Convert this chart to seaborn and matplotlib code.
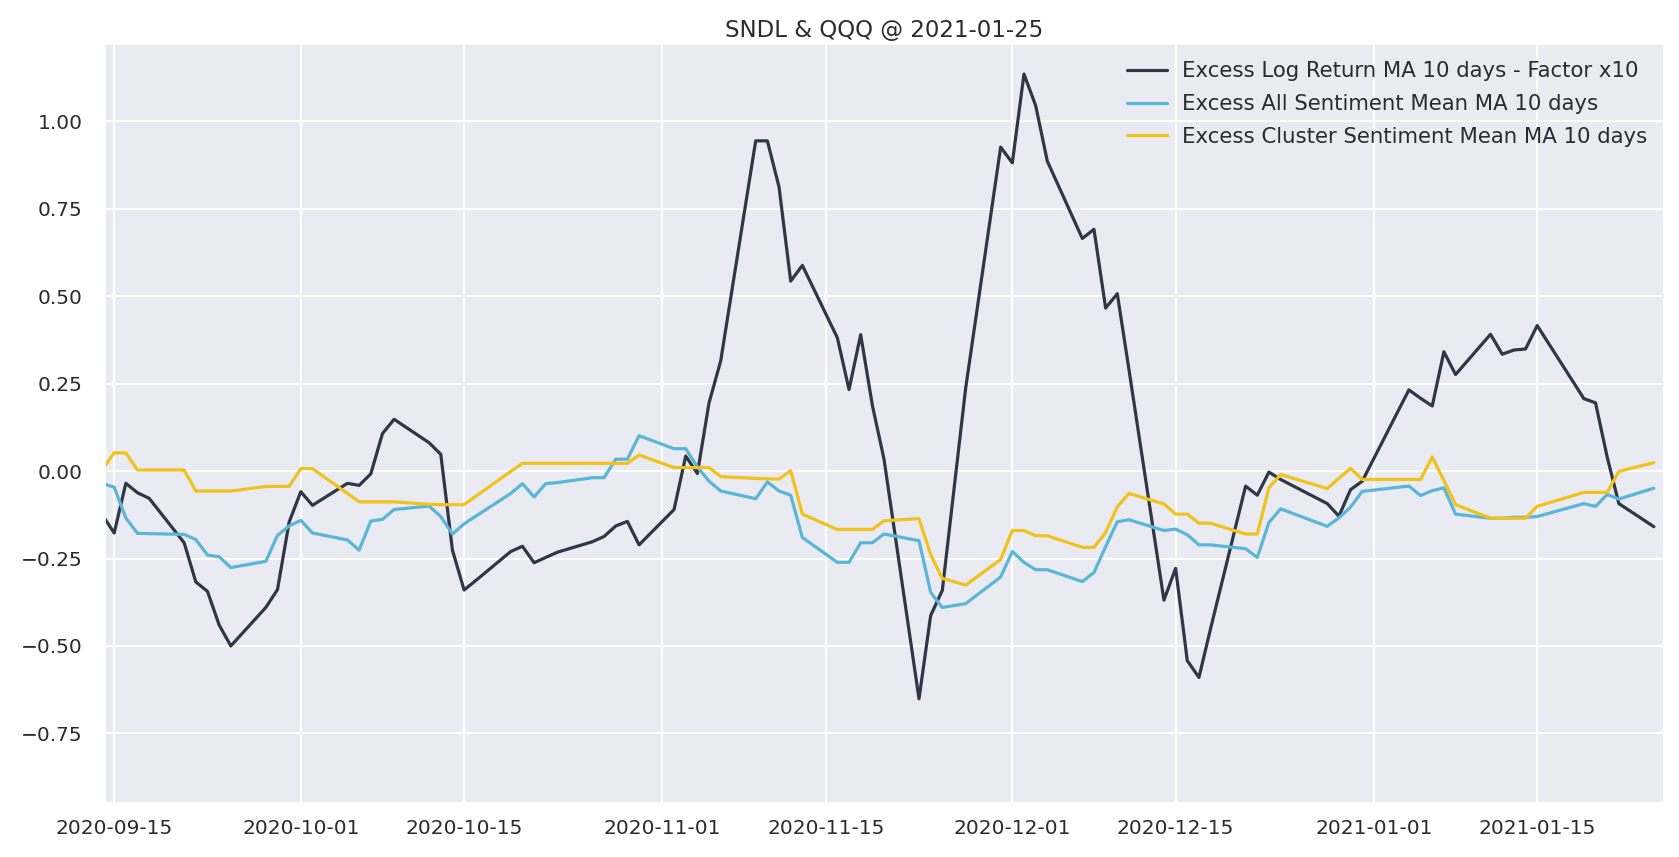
import pandas as pd
import matplotlib
matplotlib.use("Agg")
import matplotlib.pyplot as plt
import matplotlib.dates as mdates
import seaborn as sns

# Trading days shown in the chart
dates = [
    "2020-09-14", "2020-09-15", "2020-09-16", "2020-09-17", "2020-09-18",
    "2020-09-21", "2020-09-22", "2020-09-23", "2020-09-24", "2020-09-25",
    "2020-09-28", "2020-09-29", "2020-09-30", "2020-10-01", "2020-10-02",
    "2020-10-05", "2020-10-06", "2020-10-07", "2020-10-08", "2020-10-09",
    "2020-10-12", "2020-10-13", "2020-10-14", "2020-10-15", "2020-10-16",
    "2020-10-19", "2020-10-20", "2020-10-21", "2020-10-22", "2020-10-23",
    "2020-10-26", "2020-10-27", "2020-10-28", "2020-10-29", "2020-10-30",
    "2020-11-02", "2020-11-03", "2020-11-04", "2020-11-05", "2020-11-06",
    "2020-11-09", "2020-11-10", "2020-11-11", "2020-11-12", "2020-11-13",
    "2020-11-16", "2020-11-17", "2020-11-18", "2020-11-19", "2020-11-20",
    "2020-11-23", "2020-11-24", "2020-11-25", "2020-11-27",
    "2020-11-30", "2020-12-01", "2020-12-02", "2020-12-03", "2020-12-04",
    "2020-12-07", "2020-12-08", "2020-12-09", "2020-12-10", "2020-12-11",
    "2020-12-14", "2020-12-15", "2020-12-16", "2020-12-17", "2020-12-18",
    "2020-12-21", "2020-12-22", "2020-12-23", "2020-12-24",
    "2020-12-28", "2020-12-29", "2020-12-30", "2020-12-31",
    "2021-01-04", "2021-01-05", "2021-01-06", "2021-01-07", "2021-01-08",
    "2021-01-11", "2021-01-12", "2021-01-13", "2021-01-14", "2021-01-15",
    "2021-01-19", "2021-01-20", "2021-01-21", "2021-01-22",
    "2021-01-25",
]

log_return = [
    -0.126, -0.177, -0.035, -0.062, -0.078,
    -0.205, -0.317, -0.344, -0.440, -0.500,
    -0.390, -0.339, -0.146, -0.059, -0.098,
    -0.035, -0.041, -0.008, 0.107, 0.148,
    0.081, 0.048, -0.226, -0.340, -0.313,
    -0.230, -0.215, -0.262, -0.247, -0.232,
    -0.202, -0.187, -0.157, -0.144, -0.211,
    -0.110, 0.043, -0.007, 0.195, 0.315,
    0.944, 0.944, 0.812, 0.543, 0.588,
    0.381, 0.233, 0.390, 0.188, 0.034,
    -0.651, -0.413, -0.341, 0.237,
    0.926, 0.881, 1.135, 1.045, 0.886,
    0.665, 0.691, 0.466, 0.507, 0.290,
    -0.369, -0.278, -0.542, -0.590, -0.450,
    -0.043, -0.069, -0.003, -0.024,
    -0.093, -0.129, -0.053, -0.029,
    0.232, 0.208, 0.186, 0.341, 0.276,
    0.391, 0.334, 0.346, 0.349, 0.416,
    0.207, 0.195, 0.040, -0.093,
    -0.159,
]

all_sentiment = [
    -0.036, -0.046, -0.134, -0.178, -0.179,
    -0.181, -0.196, -0.240, -0.245, -0.276,
    -0.258, -0.184, -0.157, -0.141, -0.177,
    -0.197, -0.226, -0.143, -0.138, -0.110,
    -0.100, -0.130, -0.180, -0.151, -0.129,
    -0.064, -0.036, -0.074, -0.036, -0.033,
    -0.019, -0.019, 0.034, 0.034, 0.101,
    0.064, 0.064, 0.012, -0.029, -0.057,
    -0.079, -0.031, -0.057, -0.069, -0.190,
    -0.261, -0.261, -0.205, -0.205, -0.180,
    -0.199, -0.347, -0.390, -0.379,
    -0.303, -0.230, -0.261, -0.282, -0.282,
    -0.316, -0.290, -0.216, -0.145, -0.139,
    -0.170, -0.166, -0.182, -0.211, -0.211,
    -0.222, -0.247, -0.147, -0.108,
    -0.158, -0.134, -0.103, -0.058,
    -0.043, -0.070, -0.056, -0.048, -0.123,
    -0.135, -0.135, -0.132, -0.132, -0.130,
    -0.093, -0.101, -0.067, -0.080,
    -0.049,
]

cluster_sentiment = [
    0.005, 0.052, 0.052, 0.003, 0.003,
    0.003, -0.057, -0.057, -0.057, -0.057,
    -0.044, -0.044, -0.044, 0.007, 0.007,
    -0.064, -0.088, -0.088, -0.088, -0.088,
    -0.095, -0.096, -0.096, -0.096, -0.072,
    -0.001, 0.022, 0.022, 0.022, 0.022,
    0.022, 0.022, 0.022, 0.022, 0.046,
    0.010, 0.010, 0.010, 0.010, -0.016,
    -0.021, -0.022, -0.023, 0.001, -0.123,
    -0.167, -0.167, -0.167, -0.167, -0.142,
    -0.136, -0.239, -0.307, -0.326,
    -0.253, -0.170, -0.170, -0.185, -0.185,
    -0.218, -0.218, -0.176, -0.102, -0.064,
    -0.094, -0.123, -0.123, -0.149, -0.149,
    -0.180, -0.180, -0.048, -0.010,
    -0.050, -0.021, 0.008, -0.024,
    -0.024, -0.024, 0.040, -0.027, -0.096,
    -0.135, -0.135, -0.135, -0.135, -0.101,
    -0.061, -0.061, -0.061, -0.001,
    0.024,
]

labels = [
    "Excess Log Return MA 10 days - Factor x10",
    "Excess All Sentiment Mean MA 10 days",
    "Excess Cluster Sentiment Mean MA 10 days",
]
colors = ["#2f3646", "#5ab6d6", "#efc21c"]

df = pd.DataFrame({
    "date": pd.to_datetime(dates),
    labels[0]: log_return,
    labels[1]: all_sentiment,
    labels[2]: cluster_sentiment,
})

sns.set_theme(style="darkgrid")
plt.rcParams["font.family"] = ["DejaVu Sans"]
plt.rcParams["grid.linewidth"] = 1.5

fig, ax = plt.subplots(figsize=(16.79, 8.57), dpi=100)
fig.subplots_adjust(left=0.0625, right=0.9911, bottom=0.0634, top=0.9483)

for label, color in zip(labels, colors):
    sns.lineplot(data=df, x="date", y=label, color=color, linewidth=2.3,
                 label=label, ax=ax)

ax.set_xlim(pd.Timestamp("2020-09-14 05:00"), pd.Timestamp("2021-01-25 21:00"))
ax.set_ylim(-0.948, 1.22)
ax.xaxis.set_major_locator(mdates.DayLocator(bymonthday=[1, 15]))
ax.xaxis.set_major_formatter(mdates.DateFormatter("%Y-%m-%d"))
ax.set_xlabel("")
ax.set_ylabel("")
ax.tick_params(axis="both", labelsize=14.5, length=0, colors="#2b2b2b")
ax.tick_params(axis="x", pad=12)
ax.tick_params(axis="y", pad=16)
ax.set_title("SNDL & QQQ @ 2021-01-25", fontsize=16.5, color="#2b2b2b", pad=5)

ax.legend(loc="upper right", frameon=False, fontsize=15.3,
          labelspacing=0.6, handlelength=1.9, handletextpad=0.7,
          borderaxespad=0.4, labelcolor="#2b2b2b")

plt.savefig("out.png", dpi=100)
